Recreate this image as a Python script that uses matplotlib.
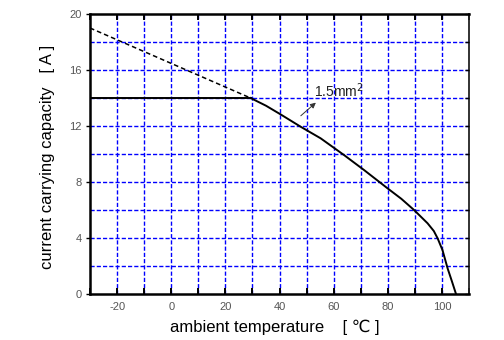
import matplotlib
matplotlib.use('Agg')
import matplotlib.pyplot as plt

plt.rcParams['font.family'] = ['Liberation Sans', 'DejaVu Sans']
plt.rcParams['axes.unicode_minus'] = False

# limit of the rated current (flat part)
flat_x = [-30, 29.3]
flat_y = [14, 14]

# extrapolated dashed line
dash_x = [-30, 29.3]
dash_y = [19, 14]

# derating curve
curve_x = [29.3, 35.0, 40.4, 47.8, 55.2, 63.8, 71.2, 79.9, 85.0, 89.7,
           94.7, 97.0, 98.4, 100.2, 102.1, 103.7, 105.2]
curve_y = [14.0, 13.45, 12.83, 11.95, 11.12, 9.93, 8.86, 7.55, 6.8, 6.0,
           5.05, 4.5, 3.98, 3.14, 1.83, 0.9, 0.0]

xticks = [-20, 0, 20, 40, 60, 80, 100]
yticks = [0, 4, 8, 12, 16, 20]

fig = plt.figure(figsize=(5.04, 3.4), dpi=100)
ax = fig.add_axes([90/504, 1 - 294/340, (469 - 90)/504, (294 - 14)/340])

# blue dashed grid
for gx in range(-20, 101, 10):
    ax.axvline(gx, color='#0000ff', lw=1.0, ls=(0, (3, 1.5)), zorder=1)
for gy in range(2, 19, 2):
    ax.axhline(gy, color='#0000ff', lw=1.0, ls=(0, (3, 1.5)), zorder=1)

ax.plot(flat_x, flat_y, color='black', lw=1.4, zorder=3)
ax.plot(dash_x, dash_y, color='black', lw=1.1, ls=(0, (3, 2)), zorder=3)
ax.plot(curve_x, curve_y, color='black', lw=1.4, zorder=3,
        solid_joinstyle='round')

ax.annotate('', xy=(54.2, 13.8), xytext=(47.1, 12.6),
            arrowprops=dict(arrowstyle='-|>', color='#333333', lw=0.7,
                            mutation_scale=8), zorder=4)
ax.text(52.8, 14.05, '1.5mm$^2$', fontsize=10, color='#222222',
        ha='left', va='baseline', zorder=4)

ax.set_xlim(-30, 110)
ax.set_ylim(0, 20)
ax.set_xticks(xticks)
ax.set_yticks(yticks)
ax.set_xticks(range(-30, 111, 10), minor=True)
ax.tick_params(axis='x', which='both', direction='in', top=True,
               length=4, width=1.4, labelsize=8, labelcolor='#555555', pad=6)
ax.tick_params(axis='y', which='major', direction='out', length=3,
               width=1.0, labelsize=8, labelcolor='#555555', pad=3)

# inward ticks on the right side every 2
ax2 = ax.twinx()
ax2.set_ylim(0, 20)
ax2.set_yticks(range(0, 21, 2))
ax2.tick_params(axis='y', direction='in', length=3, width=1.0, labelright=False)
for s in ax2.spines.values():
    s.set_visible(False)

for side in ['left', 'bottom', 'top']:
    ax.spines[side].set_linewidth(1.8)
    ax.spines[side].set_color('black')
ax.spines['right'].set_linewidth(1.3)
ax.spines['right'].set_color('#222222')

ax.set_xlabel('ambient temperature    [ \u2103 ]', fontsize=12)
ax.set_ylabel('current carrying capacity   [ A ]', fontsize=12)
ax.xaxis.set_label_coords(0.488, -0.118)
ax.yaxis.set_label_coords(-0.113, 0.49)
ax.xaxis.label.set_va('center')
ax.yaxis.label.set_va('center')

fig.savefig('out.png', dpi=100)
